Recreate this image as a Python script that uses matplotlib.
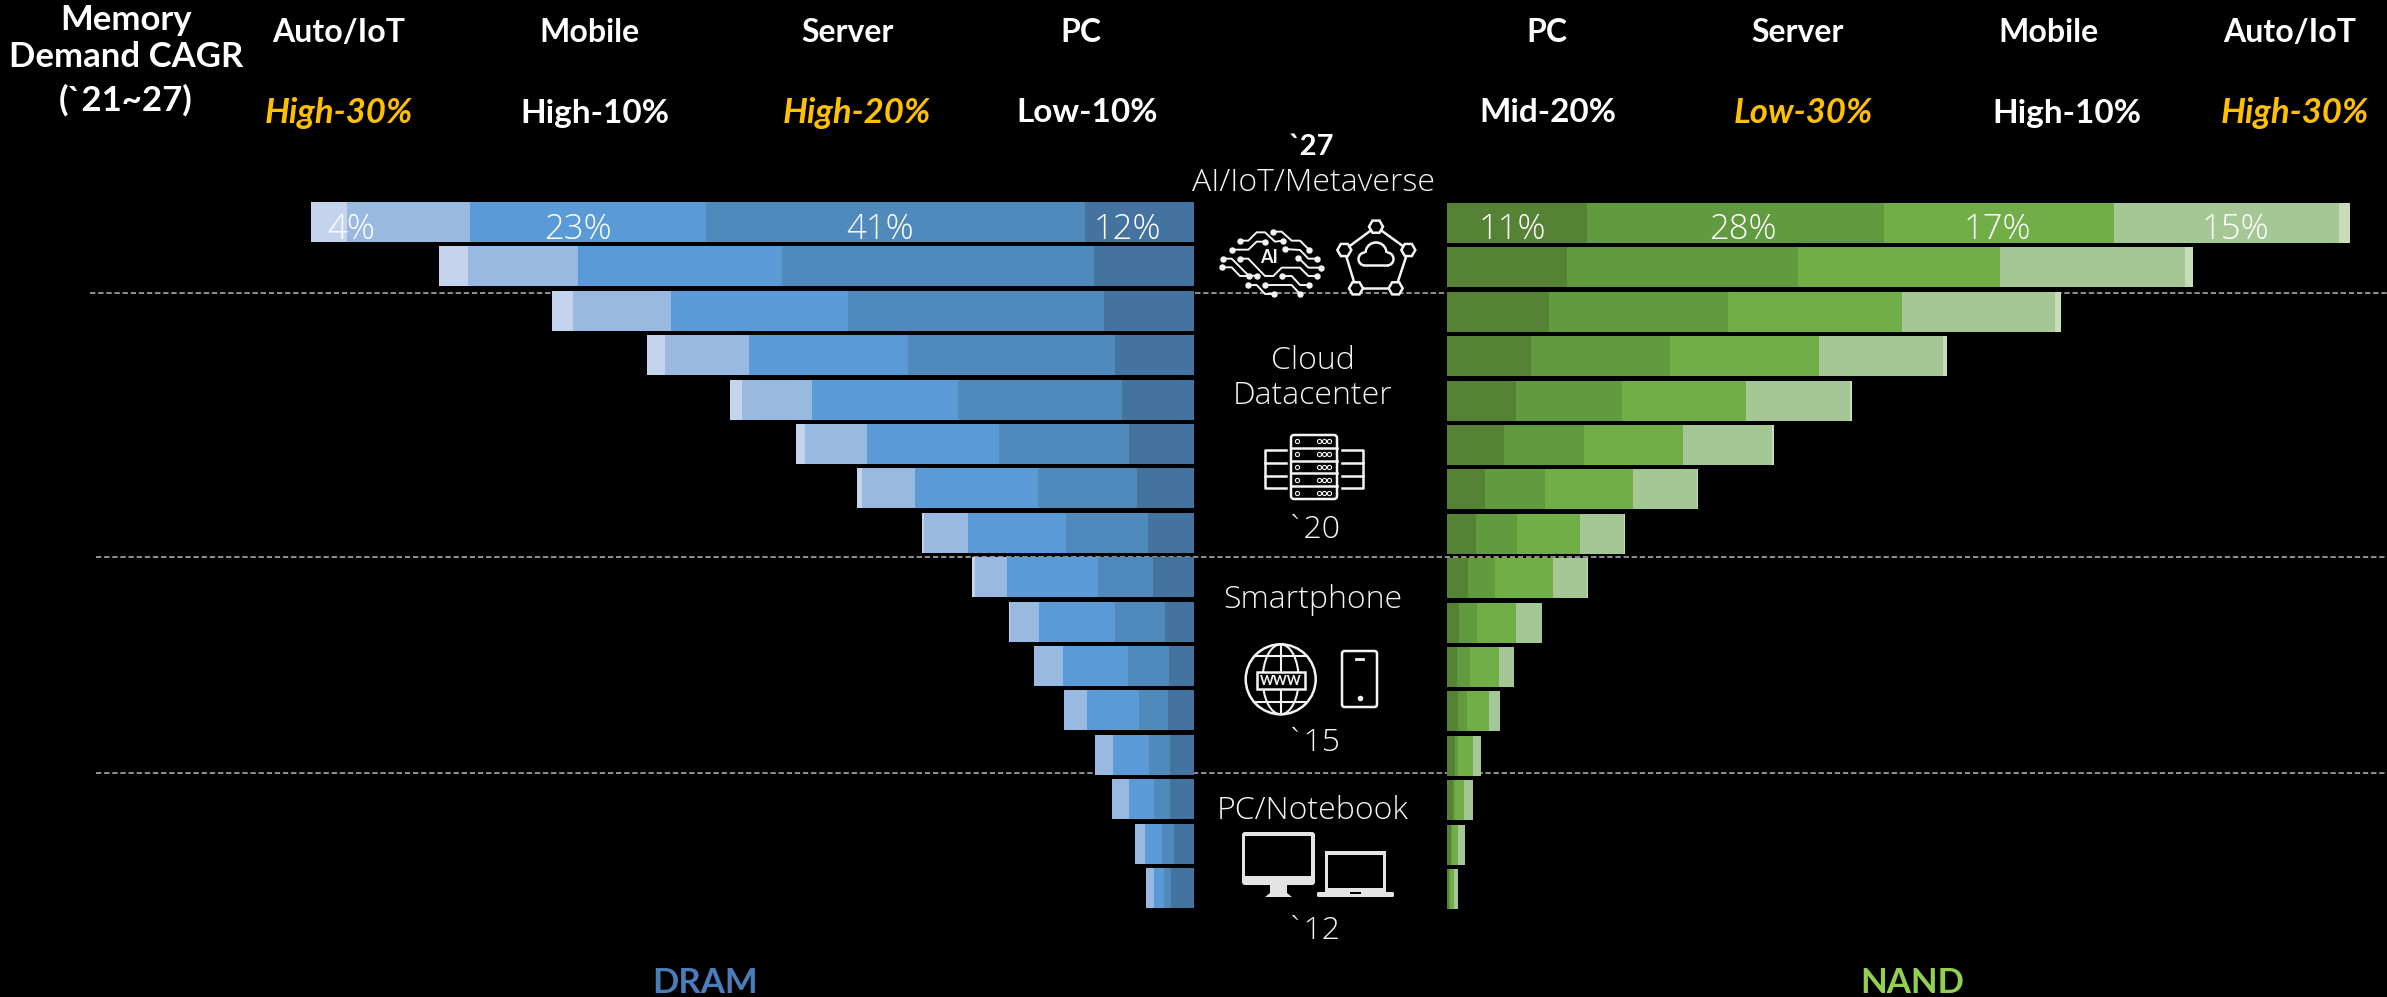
import matplotlib
matplotlib.use('Agg')
import matplotlib.pyplot as plt
from matplotlib.patches import Circle, Ellipse, FancyBboxPatch, Polygon, Rectangle, Arc
import numpy as np

# widths, top row (`27) first, pixel-scale units
years = [2027, 2026, 2025, 2024, 2023, 2022, 2021, 2020, 2019, 2018, 2017, 2016, 2015, 2014, 2013, 2012]

dram_pc = [109, 100, 90, 79, 72, 65, 57, 46, 41, 29, 25, 26, 24, 24, 20.5, 23]
dram_server = [379, 312, 256, 207, 164, 130, 99.5, 82, 55, 50, 41, 29, 21.5, 16.5, 11.5, 7.5]
dram_mobile = [236, 204, 177, 159.5, 146, 132, 123, 98, 91, 76, 65, 52, 36, 24.5, 17.5, 10]
dram_auto = [123, 110, 98, 84, 70, 62, 53, 44.5, 32.5, 29, 29, 23, 18, 17.5, 10, 7.5]
dram_other = [36.5, 29.5, 21.5, 17.5, 12.5, 9, 5, 2, 3, 1, 0, 0, 0, 0, 0, 0]

nand_pc = [140, 120, 101.5, 84, 68.5, 57, 37.5, 29, 21, 12, 10, 10.5, 7.5, 5.5, 3.5, 2]
nand_server = [297, 231, 179.5, 139, 106, 80, 60, 41, 27, 17.5, 12.5, 9.5, 3.5, 2, 1, 0.5]
nand_mobile = [229.5, 201.5, 174, 148.5, 124, 99, 88.5, 62.5, 57.5, 39, 29.5, 21.5, 14.5, 9.5, 6.5, 4.5]
nand_auto = [225.5, 185.5, 153, 124, 104, 88.5, 64, 44.5, 34, 26.5, 14.5, 11.5, 8.5, 8.5, 6.5, 3.5]
nand_other = [11, 7.5, 5.5, 4, 2.5, 2.5, 1, 1, 1, 0, 0, 0, 0, 0, 0, 0]

dram_colors = ['#44739F', '#5089BC', '#5A9AD6', '#99B9E0', '#C3D4EC']
nand_colors = ['#558235', '#629A40', '#71AE48', '#A5C795', '#C7DDB8']

dram_labels = ['12%', '41%', '23%', '4%']
dram_label_x = [1127, 880, 578, 351]
nand_labels = ['11%', '28%', '17%', '15%']
nand_label_x = [1512, 1743, 1997, 2235]

head_left = ['Auto/IoT', 'Mobile', 'Server', 'PC']
head_left_x = [339, 589, 848, 1081]
cagr_left = ['High-30%', 'High-10%', 'High-20%', 'Low-10%']
cagr_left_x = [339, 595, 857, 1087]
head_right = ['PC', 'Server', 'Mobile', 'Auto/IoT']
head_right_x = [1547, 1798, 2048, 2290]
cagr_right = ['Mid-20%', 'Low-30%', 'High-10%', 'High-30%']
cagr_right_x = [1548, 1803, 2067, 2295]
highlight = ['High-30%', 'High-20%', 'Low-30%']

FONT = 'Lato'
THIN = 'Open Sans'
WHITE = '#F4F4F4'

fig = plt.figure(figsize=(23.87, 9.97), dpi=100, facecolor='black')
ax = fig.add_axes([0, 0, 1, 1])
ax.set_xlim(0, 2387)
ax.set_ylim(997, 0)
ax.axis('off')

# dashed separators
ax.plot([90, 2387], [292.7, 292.7], color='#9a9a9a', lw=1.3, ls=(0, (3, 1.5)), zorder=1)
ax.plot([96, 2387], [556.7, 556.7], color='#9a9a9a', lw=1.3, ls=(0, (3, 1.5)), zorder=1)
ax.plot([96, 2387], [772.7, 772.7], color='#9a9a9a', lw=1.3, ls=(0, (3, 1.5)), zorder=1)

# stacked bars
row = np.arange(len(years))
y_dram = 222 + row * 44.4
y_nand = 223 + row * 44.4
left = np.zeros(len(years))
for vals, c in zip([dram_pc, dram_server, dram_mobile, dram_auto, dram_other], dram_colors):
    vals = np.array(vals)
    ax.barh(y_dram, vals, left=1194 - left - vals, height=40, color=c, lw=0, zorder=2)
    left += vals
left = np.zeros(len(years))
for vals, c in zip([nand_pc, nand_server, nand_mobile, nand_auto, nand_other], nand_colors):
    vals = np.array(vals)
    ax.barh(y_nand, vals, left=1447 + left, height=40, color=c, lw=0, zorder=2)
    left += vals

for s, x in zip(dram_labels + nand_labels, dram_label_x + nand_label_x):
    ax.text(x, 230, s, color='white', fontsize=25, family=THIN, weight='light', ha='center', va='center', zorder=3)

# header
for s, y in zip(['Memory', 'Demand CAGR', '(`21~27)'], [20, 57, 100]):
    ax.text(126, y, s, color='white', fontsize=25, family=FONT, weight='bold', ha='center', va='center')
for s, x in zip(head_left + head_right, head_left_x + head_right_x):
    ax.text(x, 33, s, color='white', fontsize=23, family=FONT, weight='bold', ha='center', va='center')
for s, x in zip(cagr_left + cagr_right, cagr_left_x + cagr_right_x):
    if s in highlight:
        ax.text(x, 113, s, color='#FFC000', fontsize=25, family=FONT, weight='bold', style='italic', ha='center', va='center')
    else:
        ax.text(x, 113, s, color='white', fontsize=24, family=FONT, weight='bold', ha='center', va='center')

# centre column
ax.text(1312, 147, '`27', color='white', fontsize=21, family=FONT, weight='bold', ha='center', va='center')
for s, y in [('AI/IoT/Metaverse', 183), ('Cloud', 361), ('Datacenter', 396), ('`20', 530),
             ('Smartphone', 600), ('`15', 743), ('PC/Notebook', 811), ('`12', 931)]:
    ax.text(1313, y, s, color=WHITE, fontsize=23, family=THIN, weight='light', ha='center', va='center')

ax.text(705, 983, 'DRAM', color='#4A7EBB', fontsize=25, family=FONT, weight='bold', ha='center', va='center')
ax.text(1912, 983, 'NAND', color='#92D050', fontsize=25, family=FONT, weight='bold', ha='center', va='center')


# icons
def zx(z):
    return 1210 + z / 3


def zy(z):
    return 200 + z / 3


traces = [
    [(90, 122), (115, 122), (140, 97), (165, 97), (195, 125), (218, 122)],
    [(65, 149), (115, 149), (140, 125), (165, 125)],
    [(190, 95), (215, 95), (245, 122), (270, 122), (297, 149)],
    [(225, 147), (270, 150), (295, 176), (320, 176)],
    [(265, 173), (295, 203), (333, 203)],
    [(38, 176), (65, 176), (115, 226), (140, 228)],
    [(90, 176), (115, 176), (165, 228), (190, 228), (215, 203), (270, 203), (295, 228), (320, 228)],
    [(35, 202), (65, 202), (90, 228), (118, 228)],
    [(215, 228), (245, 228), (270, 255), (297, 255)],
    [(115, 255), (140, 255), (165, 282), (192, 282)],
    [(165, 255), (245, 255), (270, 282)],
]
for t in traces:
    xs = [zx(p[0]) for p in t]
    ys = [zy(p[1]) for p in t]
    ax.plot(xs, ys, color=WHITE, lw=1.4, zorder=4)
    ax.plot([xs[0], xs[-1]], [ys[0], ys[-1]], 'o', color=WHITE, ms=3.6, lw=0, zorder=4)
ax.text(zx(177), zy(172), 'AI', color=WHITE, fontsize=13, family=FONT, weight='bold', ha='center', va='center', zorder=4)

nodes = [(498, 80), (595, 150), (557, 265), (438, 265), (403, 150)]
for i in range(5):
    a, b = nodes[i], nodes[(i + 1) % 5]
    ax.plot([zx(a[0]), zx(b[0])], [zy(a[1]), zy(b[1])], color=WHITE, lw=1.8, zorder=4)
for n in nodes:
    ang = np.deg2rad(np.arange(0, 360, 60))
    hexa = np.c_[zx(n[0]) + 7 * np.cos(ang), zy(n[1]) + 7 * np.sin(ang)]
    ax.add_patch(Polygon(hexa, closed=True, fc='black', ec=WHITE, lw=1.8, zorder=5))
# cloud
cx, cy = zx(498), zy(195)
ax.add_patch(Arc((cx - 11, cy - 6), 13, 13, theta1=90, theta2=270, ec=WHITE, lw=1.8, zorder=5))
ax.add_patch(Arc((cx + 11, cy - 6), 13, 13, theta1=270, theta2=90, ec=WHITE, lw=1.8, zorder=5))
ax.add_patch(Arc((cx, cy - 12), 21, 21, theta1=180, theta2=360, ec=WHITE, lw=1.8, zorder=5))
ax.plot([cx - 11, cx + 11], [cy + 0.5, cy + 0.5], color=WHITE, lw=1.8, zorder=5)

# server rack
ax.add_patch(FancyBboxPatch((1291, 435), 46, 64, boxstyle='round,pad=0,rounding_size=3', fc='black', ec=WHITE, lw=1.8, zorder=4))
for k in range(1, 5):
    ax.plot([1291, 1337], [435 + k * 12.8, 435 + k * 12.8], color=WHITE, lw=1.8, zorder=5)
for k in range(5):
    yy = 441.4 + k * 12.8
    ax.plot([1297], [yy], 'o', mfc='none', mec=WHITE, ms=3, mew=0.8, zorder=5)
    ax.plot([1319, 1324, 1329], [yy, yy, yy], 'o', mfc='none', mec=WHITE, ms=3, mew=0.8, lw=0, zorder=5)
for x0, x1 in [(1286, 1265), (1342, 1363)]:
    ax.plot([x0, x1, x1, x0], [450, 450, 488, 488], color=WHITE, lw=1.8, zorder=4)
    ax.plot([x0, x1], [463, 463], color=WHITE, lw=1.8, zorder=4)
    ax.plot([x0, x1], [476, 476], color=WHITE, lw=1.8, zorder=4)

# globe
gx, gy = 1280.7, 679.3
ax.add_patch(Circle((gx, gy), 35, fc='black', ec=WHITE, lw=1.8, zorder=4))
ax.add_patch(Ellipse((gx, gy), 36, 70, fc='none', ec=WHITE, lw=1.5, zorder=4))
ax.plot([gx, gx], [gy - 35, gy + 35], color=WHITE, lw=1.5, zorder=4)
for off, half in [(-23, 26), (23, 26)]:
    ax.plot([gx - half, gx + half], [gy + off, gy + off], color=WHITE, lw=1.5, zorder=4)
ax.add_patch(Rectangle((1257, 672), 48, 17, fc='black', ec=WHITE, lw=1.8, zorder=5))
ax.text(gx, 680.5, 'WWW', color=WHITE, fontsize=9.5, family=FONT, weight='bold', ha='center', va='center', zorder=6)

# phone
ax.add_patch(FancyBboxPatch((1342, 651), 35, 56, boxstyle='round,pad=0,rounding_size=2.5', fc='black', ec=WHITE, lw=1.8, zorder=4))
ax.plot([1356, 1363], [658.5, 658.5], color=WHITE, lw=2, zorder=5)
ax.plot([1359.5], [698], 'o', color=WHITE, ms=3, zorder=5)

# monitor
ax.add_patch(FancyBboxPatch((1242, 832), 73, 53, boxstyle='round,pad=0,rounding_size=3', fc='#E4E4E4', ec='none', zorder=4))
ax.add_patch(Rectangle((1245, 836), 66, 40, fc='black', ec='none', zorder=5))
ax.add_patch(Polygon([(1270, 885), (1287, 885), (1287, 893), (1292, 897), (1265, 897), (1270, 893)], closed=True, fc='#E4E4E4', ec='none', zorder=4))

# laptop
ax.add_patch(Rectangle((1325, 851), 61, 41, fc='#E4E4E4', ec='none', zorder=4))
ax.add_patch(Rectangle((1328, 855), 55, 33, fc='black', ec='none', zorder=5))
ax.add_patch(FancyBboxPatch((1317, 892), 77, 5, boxstyle='round,pad=0,rounding_size=1.5', fc='#E4E4E4', ec='none', zorder=4))
ax.add_patch(Rectangle((1350, 892), 11, 1.5, fc='black', ec='none', zorder=5))

fig.savefig('out.png', dpi=100, facecolor='black')
